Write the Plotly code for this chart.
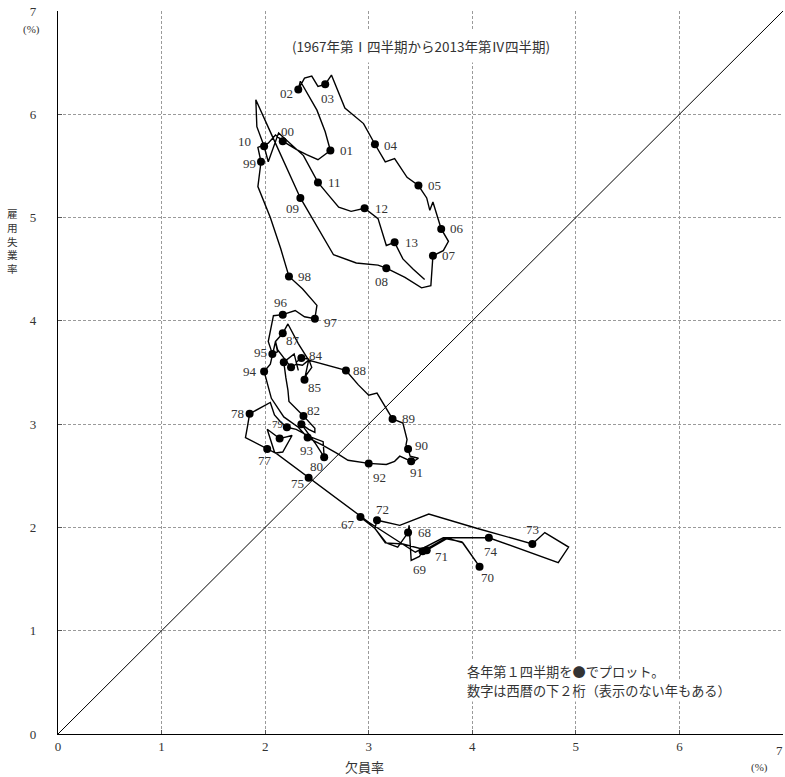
import plotly.graph_objects as go

# ---- data: quarterly vacancy rate (x, %) and employment unemployment rate (y, %), 1967Q1-2013Q4
years = list(range(1967, 2014))
vacancy_rate = [
    2.92, 3.06, 3.17, 3.28,   # 1967
    3.38, 3.39, 3.41, 3.49,   # 1968
    3.52, 3.67, 3.75, 3.91,   # 1969
    4.07, 3.90, 3.75, 3.62,   # 1970
    3.56, 3.33, 3.16, 3.06,   # 1971
    3.08, 3.30, 3.58, 4.05,   # 1972
    4.58, 4.70, 4.93, 4.83,   # 1973
    4.16, 3.72, 3.45, 3.00,   # 1974
    2.42, 2.25, 2.09, 2.02,   # 1975
    2.14, 2.26, 2.17, 2.10,   # 1976
    2.02, 1.92, 1.81, 1.83,   # 1977
    1.85, 2.05, 2.09, 2.15,   # 1978
    2.21, 2.30, 2.43, 2.56,   # 1979
    2.57, 2.48, 2.40, 2.37,   # 1980
    2.35, 2.42, 2.48, 2.48,   # 1981
    2.37, 2.23, 2.22, 2.20,   # 1982
    2.18, 2.28, 2.32, 2.30,   # 1983
    2.35, 2.42, 2.45, 2.40,   # 1984
    2.38, 2.42, 2.36, 2.30,   # 1985
    2.25, 2.20, 2.12, 2.10,   # 1986
    2.17, 2.22, 2.32, 2.42,   # 1987
    2.78, 2.90, 3.00, 3.08,   # 1988
    3.23, 3.33, 3.37, 3.36,   # 1989
    3.38, 3.40, 3.48, 3.42,   # 1990
    3.41, 3.30, 3.25, 3.17,   # 1991
    3.00, 2.80, 2.69, 2.55,   # 1992
    2.41, 2.32, 2.18, 2.06,   # 1993
    1.99, 2.05, 2.10, 2.12,   # 1994
    2.07, 2.03, 2.05, 2.08,   # 1995
    2.17, 2.29, 2.38, 2.46,   # 1996
    2.48, 2.50, 2.45, 2.36,   # 1997
    2.23, 2.15, 2.05, 1.93,   # 1998
    1.96, 1.93, 2.03, 2.10,   # 1999
    2.17, 2.30, 2.40, 2.51,   # 2000
    2.63, 2.58, 2.50, 2.34,   # 2001
    2.32, 2.38, 2.45, 2.51,   # 2002
    2.58, 2.64, 2.77, 2.95,   # 2003
    3.06, 3.16, 3.25, 3.37,   # 2004
    3.48, 3.56, 3.59, 3.62,   # 2005
    3.70, 3.77, 3.72, 3.65,   # 2006
    3.62, 3.60, 3.51, 3.35,   # 2007
    3.17, 3.09, 2.88, 2.66,   # 2008
    2.34, 2.05, 1.91, 1.92,   # 2009
    1.99, 2.03, 2.13, 2.37,   # 2010
    2.51, 2.61, 2.71, 2.83,   # 2011
    2.96, 3.09, 3.13, 3.17,   # 2012
    3.25, 3.33, 3.43, 3.54,   # 2013
]
unemployment_rate = [
    2.10, 1.99, 1.85, 1.81,   # 1967
    1.95, 2.02, 1.68, 1.72,   # 1968
    1.77, 1.86, 1.90, 1.85,   # 1969
    1.62, 1.86, 1.89, 1.82,   # 1970
    1.78, 1.84, 1.85, 1.99,   # 1971
    2.07, 2.02, 2.13, 1.99,   # 1972
    1.84, 1.95, 1.81, 1.66,   # 1973
    1.90, 1.90, 1.76, 2.05,   # 1974
    2.48, 2.61, 2.73, 2.95,   # 1975
    2.86, 2.89, 2.73, 2.72,   # 1976
    2.76, 2.81, 2.87, 2.98,   # 1977
    3.10, 3.21, 3.09, 3.02,   # 1978
    2.97, 2.95, 2.88, 2.83,   # 1979
    2.68, 2.82, 2.93, 2.98,   # 1980
    3.00, 2.95, 2.92, 2.96,   # 1981
    3.08, 3.22, 3.33, 3.45,   # 1982
    3.60, 3.68, 3.52, 3.60,   # 1983
    3.64, 3.63, 3.55, 3.48,   # 1984
    3.43, 3.62, 3.57, 3.58,   # 1985
    3.55, 3.62, 3.72, 3.80,   # 1986
    3.88, 3.97, 3.78, 3.62,   # 1987
    3.52, 3.38, 3.28, 3.30,   # 1988
    3.05, 3.01, 2.85, 2.80,   # 1989
    2.76, 2.69, 2.67, 2.63,   # 1990
    2.64, 2.69, 2.64, 2.61,   # 1991
    2.62, 2.65, 2.72, 2.80,   # 1992
    2.87, 2.97, 3.07, 3.25,   # 1993
    3.51, 3.58, 3.80, 3.70,   # 1994
    3.68, 3.80, 3.90, 4.05,   # 1995
    4.06, 4.10, 4.04, 4.02,   # 1996
    4.02, 4.15, 4.21, 4.31,   # 1997
    4.43, 4.70, 5.00, 5.30,   # 1998
    5.54, 5.68, 5.72, 5.80,   # 1999
    5.74, 5.66, 5.61, 5.56,   # 2000
    5.65, 5.83, 6.04, 6.32,   # 2001
    6.24, 6.35, 6.37, 6.27,   # 2002
    6.29, 6.38, 6.06, 5.91,   # 2003
    5.71, 5.54, 5.57, 5.39,   # 2004
    5.31, 5.19, 5.07, 5.15,   # 2005
    4.89, 4.77, 4.68, 4.64,   # 2006
    4.63, 4.34, 4.32, 4.42,   # 2007
    4.51, 4.54, 4.56, 4.64,   # 2008
    5.19, 5.83, 6.14, 5.88,   # 2009
    5.69, 5.54, 5.82, 5.60,   # 2010
    5.34, 5.22, 5.10, 5.06,   # 2011
    5.09, 4.99, 4.86, 4.73,   # 2012
    4.76, 4.60, 4.50, 4.40,   # 2013
]
unlabeled_years = [1976, 1981, 1983, 1986]
diagonal = [0, 7]
y_title_chars = ["雇", "用", "失", "業", "率"]
note_lines = ["各年第１四半期を●でプロット。", "数字は西暦の下２桁（表示のない年もある）"]

# ---- label placement (pixel offsets from the dot: dx right, dy down) - styling only
label_offsets = {
    1967: (-12, 7), 1968: (16, 0), 1969: (-3, 18), 1970: (8, 11), 1971: (15, 6),
    1972: (5, -11), 1973: (0, -14), 1974: (2, 14), 1975: (-11, 6), 1977: (-2, 12),
    1978: (-12, 0), 1979: (-9, -3), 1980: (-8, 9), 1982: (10, -5), 1984: (15, -3),
    1985: (10, 8), 1987: (10, 7), 1988: (14, 0), 1989: (16, 0), 1990: (13, -3),
    1991: (5, 11), 1992: (11, 14), 1993: (-1, 13), 1994: (-14, 0), 1995: (-12, -1),
    1996: (-2, -12), 1997: (16, 4), 1998: (16, 0), 1999: (-12, 2), 2000: (5, -10),
    2001: (16, 0), 2002: (-12, 4), 2003: (2, 14), 2004: (16, 1), 2005: (16, 0),
    2006: (16, 0), 2007: (16, 0), 2008: (-5, 13), 2009: (-8, 11), 2010: (-20, -5),
    2011: (17, 0), 2012: (17, 0), 2013: (17, 0),
}

SERIF = "Liberation Serif, DejaVu Serif, serif"
JP = "Noto Sans CJK JP, sans-serif"
TXT = "#333333"

q1_x = [vacancy_rate[4 * (y - 1967)] for y in years]
q1_y = [unemployment_rate[4 * (y - 1967)] for y in years]

fig = go.Figure()
fig.add_trace(go.Scatter(x=diagonal, y=diagonal, mode="lines",
                         line=dict(color="black", width=1), hoverinfo="skip"))
fig.add_trace(go.Scatter(x=vacancy_rate, y=unemployment_rate, mode="lines",
                         line=dict(color="black", width=1.4)))
fig.add_trace(go.Scatter(x=q1_x, y=q1_y, mode="markers",
                         marker=dict(color="black", size=8)))

annotations = []
for yr, xv, yv in zip(years, q1_x, q1_y):
    if yr in unlabeled_years:
        continue
    dx, dy = label_offsets.get(yr, (15, 0))
    annotations.append(dict(x=xv, y=yv, xref="x", yref="y", text=f"{yr % 100:02d}",
                            showarrow=False, xshift=dx, yshift=-dy,
                            xanchor="center", yanchor="middle",
                            font=dict(family=SERIF, size=11 if yr == 1979 else 13, color=TXT)))

def note(x, y, text, family, size, **kw):
    d = dict(x=x, y=y, xref="paper", yref="paper", text=text, showarrow=False,
             xanchor="center", yanchor="middle",
             font=dict(family=family, size=size, color=TXT))
    d.update(kw)
    return d

annotations += [
    note(0.5007, 0.9516, "(1967年第Ⅰ四半期から2013年第Ⅳ四半期)", JP, 13.5,
         bgcolor="white", borderpad=6),
    note(-0.036, 0.975, "(%)", SERIF, 11),
    note(0.967, -0.047, "(%)", SERIF, 11),
    note(0.4234, -0.0456, "欠員率", JP, 13),
    # x-axis end tick label (would be clipped at the page edge as a regular tick label)
    note(1.0, -0.0224, "7", SERIF, 13, xanchor="right", xshift=2),
    # vertical (stacked) y-axis title
    note(-0.0634, (734 - 241.5) / 723, "<br>".join(y_title_chars), JP, 10.6),
]
for i, line in enumerate(note_lines):
    annotations.append(note(0.561, (734 - (671 + 19 * i)) / 723, line, JP, 13.2,
                            xanchor="left", bgcolor="white", borderpad=1))

axis_common = dict(range=[0, 7], dtick=1, tick0=0, showgrid=True, gridcolor="#9a9a9a",
                   gridwidth=1, griddash="3px,2px", zeroline=False, showline=True,
                   linecolor="black", linewidth=1.2, ticks="inside", ticklen=4,
                   tickcolor="#555", tickfont=dict(family=SERIF, size=13, color=TXT),
                   automargin=False, fixedrange=True)

fig.update_layout(
    width=785, height=777,
    margin=dict(l=58, r=2, t=11, b=43),
    paper_bgcolor="white", plot_bgcolor="white",
    showlegend=False,
    xaxis=dict(**axis_common),
    yaxis=dict(**axis_common, ticklabelstandoff=18),
    annotations=annotations,
)

fig.write_html("out.html", config={"displayModeBar": False},
               post_script="document.body.style.margin='0';document.body.style.overflow='hidden';")
